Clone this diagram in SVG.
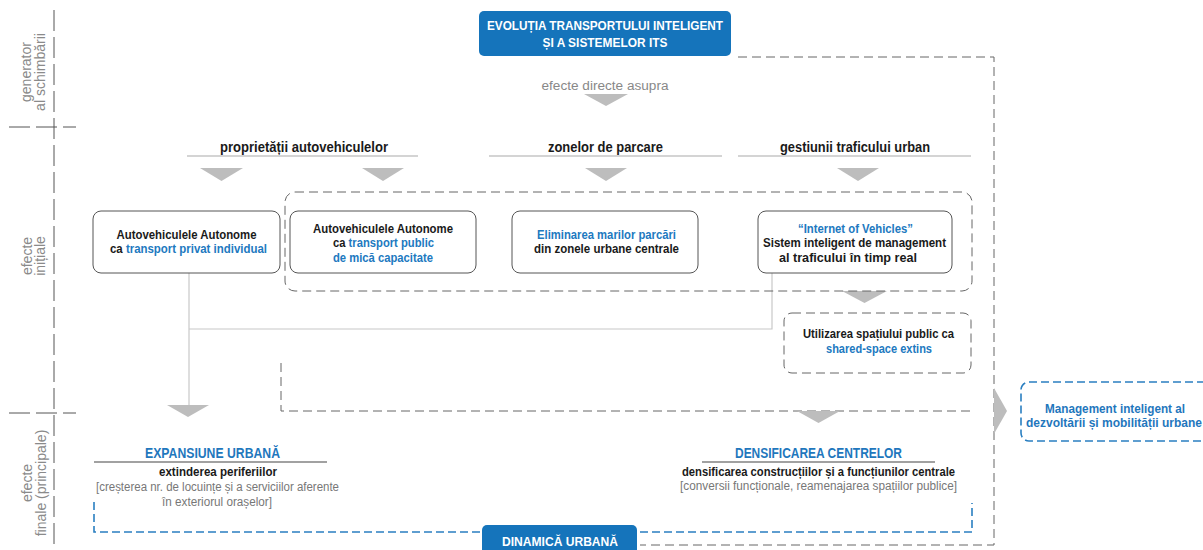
<svg xmlns="http://www.w3.org/2000/svg" width="1203" height="550" viewBox="0 0 1203 550">
<style>
text{font-family:"Liberation Sans",Arial,sans-serif}
.b{font-weight:bold;fill:#1a1a1a;font-size:12px}
.h{font-weight:bold;fill:#1a1a1a;font-size:14px}
.bl{fill:#2179bf}
.H{font-weight:bold;fill:#1f77bd;font-size:14px}
.g{fill:#777;font-size:12px}
.side{fill:#8a8a8a;font-size:14px}
.w{fill:#fff;font-weight:bold;font-size:13px}
.box{fill:#fff;stroke:#555;stroke-width:1}
.dash{fill:none;stroke:#666;stroke-width:1;stroke-dasharray:9 5}
.axis{fill:none;stroke:#555;stroke-width:1;stroke-dasharray:21 6}
.bdash{fill:none;stroke:#2a7fc1;stroke-width:1.6;stroke-dasharray:8 4}
.con{fill:none;stroke:#c8c8c8;stroke-width:1.2}
.tri{fill:#bdbdbd}
.ul{stroke:#aaa;stroke-width:1.2}
.ud{stroke:#444;stroke-width:1.2}
.blue{fill:#1574bb}
</style>
<g id="axis">
<line class="axis" x1="54" y1="10" x2="54" y2="550"/>
<line class="axis" x1="9" y1="127" x2="76" y2="127"/>
<line class="axis" x1="9" y1="413" x2="76" y2="413"/>
<text class="side" transform="translate(31,72) rotate(-90)" text-anchor="middle">generator</text>
<text class="side" transform="translate(45,72) rotate(-90)" text-anchor="middle">al schimbării</text>
<text class="side" transform="translate(32,256) rotate(-90)" text-anchor="middle">efecte</text>
<text class="side" transform="translate(45,256) rotate(-90)" text-anchor="middle">inițiale</text>
<text class="side" transform="translate(32,483) rotate(-90)" text-anchor="middle">efecte</text>
<text class="side" transform="translate(46,483) rotate(-90)" text-anchor="middle">finale (principale)</text>
</g>
<g id="connectors">
<path class="con" d="M189,273 V405 M772,273 V329 H189"/>
<path class="dash" d="M281,363 V411 H971"/>
<path class="dash" d="M738,57 H994 V545 H640"/>
<path class="bdash" d="M94,502 V532 H482 M640,532 H972 V503"/>
<polygon class="tri" points="584,94 628,94 606,106"/>
<polygon class="tri" points="200,168 243,168 221.5,181"/>
<polygon class="tri" points="362,168 404,168 383,181"/>
<polygon class="tri" points="585,168 627,168 606,181"/>
<polygon class="tri" points="837,168 879,168 858,181"/>
<polygon class="tri" points="842,291 887,291 864.5,303"/>
<polygon class="tri" points="167,405 209,405 188,417"/>
<polygon class="tri" points="797,411 840,411 818.5,423"/>
<polygon class="tri" points="994,388 1007,411 994,434"/>
</g>
<g id="title">
<rect class="blue" x="479" y="11" width="252" height="45" rx="5"/>
<text class="w" x="605" y="30" text-anchor="middle" textLength="236" lengthAdjust="spacingAndGlyphs">EVOLUȚIA TRANSPORTULUI INTELIGENT</text>
<text class="w" x="605" y="47" text-anchor="middle" textLength="125" lengthAdjust="spacingAndGlyphs">ȘI A SISTEMELOR ITS</text>
</g>
<g id="efecte-directe">
<text x="605" y="90" text-anchor="middle" style="fill:#888;font-size:12px" textLength="127" lengthAdjust="spacingAndGlyphs">efecte directe asupra</text>
</g>
<g id="header-proprietatii">
<text class="h" x="304" y="152" text-anchor="middle" textLength="168" lengthAdjust="spacingAndGlyphs">proprietății autovehiculelor</text>
<line class="ul" x1="187" y1="156" x2="418" y2="156"/>
</g>
<g id="header-parcare">
<text class="h" x="605.5" y="152" text-anchor="middle" textLength="115" lengthAdjust="spacingAndGlyphs">zonelor de parcare</text>
<line class="ul" x1="489" y1="156" x2="722" y2="156"/>
</g>
<g id="header-trafic">
<text class="h" x="855" y="152" text-anchor="middle" textLength="150" lengthAdjust="spacingAndGlyphs">gestiunii traficului urban</text>
<line class="ul" x1="738" y1="156" x2="971" y2="156"/>
</g>
<g id="group-initiale">
<rect class="dash" x="285" y="192" width="687" height="99" rx="10"/>
</g>
<g id="box-privat">
<rect class="box" x="93" y="211" width="187" height="62" rx="8"/>
<text class="b" x="186.5" y="239" text-anchor="middle" textLength="140" lengthAdjust="spacingAndGlyphs">Autovehiculele Autonome</text>
<text class="b" x="188.5" y="253" text-anchor="middle" textLength="157" lengthAdjust="spacingAndGlyphs">ca <tspan class="bl">transport privat individual</tspan></text>
</g>
<g id="box-public">
<rect class="box" x="290" y="211" width="186" height="62" rx="8"/>
<text class="b" x="383" y="233" text-anchor="middle" textLength="140" lengthAdjust="spacingAndGlyphs">Autovehiculele Autonome</text>
<text class="b" x="383.5" y="247" text-anchor="middle" textLength="101" lengthAdjust="spacingAndGlyphs">ca <tspan class="bl">transport public</tspan></text>
<text class="b bl" x="383" y="262" text-anchor="middle" textLength="100" lengthAdjust="spacingAndGlyphs">de mică capacitate</text>
</g>
<g id="box-parcari">
<rect class="box" x="512" y="211" width="186" height="62" rx="8"/>
<text class="b bl" x="606.5" y="239" text-anchor="middle" textLength="139" lengthAdjust="spacingAndGlyphs">Eliminarea marilor parcări</text>
<text class="b" x="606.5" y="253" text-anchor="middle" textLength="145" lengthAdjust="spacingAndGlyphs">din zonele urbane centrale</text>
</g>
<g id="box-iov">
<rect class="box" x="758" y="211" width="194" height="62" rx="8"/>
<text class="b bl" x="855.5" y="233" text-anchor="middle" textLength="115" lengthAdjust="spacingAndGlyphs">“Internet of Vehicles”</text>
<text class="b" x="854.5" y="247" text-anchor="middle" textLength="183" lengthAdjust="spacingAndGlyphs">Sistem inteligent de management</text>
<text class="b" x="848" y="262" text-anchor="middle" textLength="138" lengthAdjust="spacingAndGlyphs">al traficului în timp real</text>
</g>
<g id="box-shared">
<rect class="dash" x="784" y="313" width="187" height="60" rx="8"/>
<text class="b" x="878.5" y="338" text-anchor="middle" textLength="151" lengthAdjust="spacingAndGlyphs">Utilizarea spațiului public ca</text>
<text class="b bl" x="879" y="353" text-anchor="middle" textLength="106" lengthAdjust="spacingAndGlyphs">shared-space extins</text>
</g>
<g id="box-management">
<rect x="1021" y="382" width="200" height="59" rx="8" class="bdash"/>
<text class="b" x="1115" y="413" text-anchor="middle" style="fill:#1f77bd" textLength="140" lengthAdjust="spacingAndGlyphs">Management inteligent al</text>
<text class="b" x="1114" y="427" text-anchor="middle" style="fill:#1f77bd" textLength="176" lengthAdjust="spacingAndGlyphs">dezvoltării și mobilității urbane</text>
</g>
<g id="expansiune">
<text class="H" x="212.5" y="458" text-anchor="middle" textLength="135" lengthAdjust="spacingAndGlyphs">EXPANSIUNE URBANĂ</text>
<line class="ud" x1="94" y1="462" x2="327" y2="462"/>
<text class="b" x="218" y="476" text-anchor="middle" textLength="118" lengthAdjust="spacingAndGlyphs">extinderea periferiilor</text>
<text class="g" x="217.5" y="491" text-anchor="middle" textLength="243" lengthAdjust="spacingAndGlyphs">[creșterea nr. de locuințe și a serviciilor aferente</text>
<text class="g" x="217" y="506" text-anchor="middle" textLength="110" lengthAdjust="spacingAndGlyphs">în exteriorul orașelor]</text>
</g>
<g id="densificarea">
<text class="H" x="818.5" y="458" text-anchor="middle" textLength="167" lengthAdjust="spacingAndGlyphs">DENSIFICAREA CENTRELOR</text>
<line class="ud" x1="702" y1="462" x2="935" y2="462"/>
<text class="b" x="818.5" y="476" text-anchor="middle" textLength="273" lengthAdjust="spacingAndGlyphs">densificarea construcțiilor și a funcțiunilor centrale</text>
<text class="g" x="818.5" y="490" text-anchor="middle" textLength="277" lengthAdjust="spacingAndGlyphs">[conversii funcționale, reamenajarea spațiilor publice]</text>
</g>
<g id="dinamica">
<rect class="blue" x="482" y="525" width="155" height="40" rx="5"/>
<text class="w" x="560" y="546" text-anchor="middle" textLength="116" lengthAdjust="spacingAndGlyphs">DINAMICĂ URBANĂ</text>
</g>
</svg>
